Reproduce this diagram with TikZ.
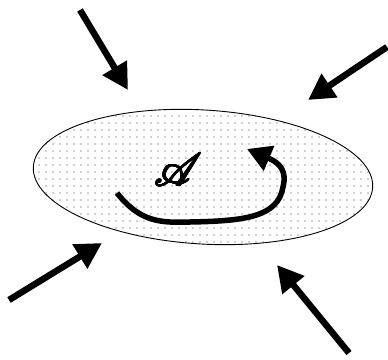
\documentclass[tikz,border=0pt]{standalone}
\usepackage{mathrsfs}
\usepackage[copies]{contour}
\contourlength{0.12pt}
\usetikzlibrary{shapes.geometric, arrows.meta, patterns.meta}

\begin{document}
\begin{tikzpicture}[
  x=1pt, y=1pt,
  region/.style={ellipse, draw, line width=0.9pt, inner sep=0pt, minimum width=340pt, minimum height=134pt,
    pattern={Dots[distance=6.5pt, radius=0.6pt]}, pattern color=black!80},
  push/.style={-{Triangle[length=26pt, width=27pt]}, line width=6.5pt},
  flow/.style={-{Triangle[length=24pt, width=26pt]}, line width=5.5pt}
]
\useasboundingbox (0,0) rectangle (388,359);
\node[region, rotate=-3.5] (reg) at (203,182) {};
\node[scale=4.6] (lbl) at (178,189) {\contour{black}{$\mathscr{A}$}};
% outside pushes
\coordinate (nwT) at (80,349);  \coordinate (nwH) at (128,269);
\coordinate (neT) at (387,312); \coordinate (neH) at (308,259);
\coordinate (swT) at (9,59);    \coordinate (swH) at (102,116);
\coordinate (seT) at (349,6);   \coordinate (seH) at (277,94);
\draw[push] (nwT) -- (nwH);
\draw[push] (neT) -- (neH);
\draw[push] (swT) -- (swH);
\draw[push] (seT) -- (seH);
% inner circulation
\coordinate (cS) at (117,166);
\coordinate (cB) at (190,137);
\coordinate (cR) at (283,172);
\coordinate (cH) at (247,210);
\draw[flow] (cS) .. controls (140,137) and (160,136) .. (cB)
  .. controls (245,138) and (278,142) .. (cR)
  .. controls (287,188) and (280,196) .. (cH);
\end{tikzpicture}
\end{document}
